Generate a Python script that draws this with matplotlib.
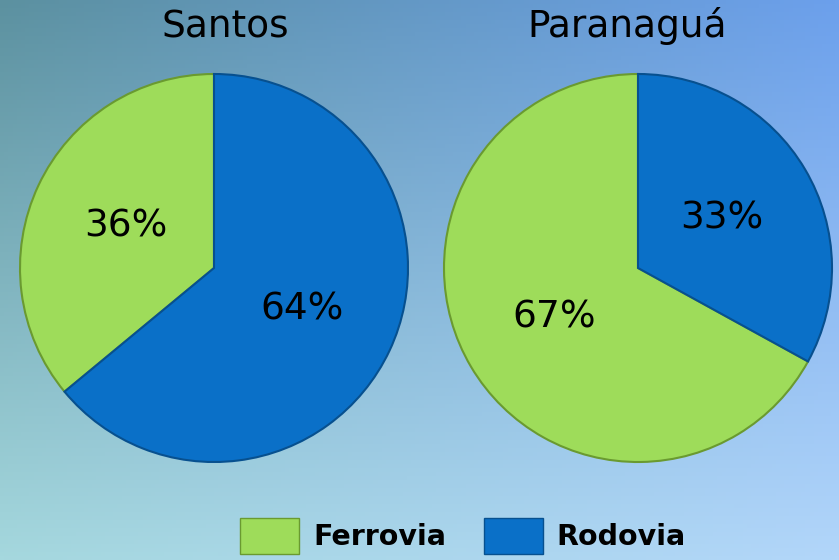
import numpy as np
import matplotlib.pyplot as plt
from matplotlib.patches import Patch

plt.rcParams['font.family'] = ['DejaVu Sans']

ports = ['Santos', 'Paranaguá']
modes = ['Ferrovia', 'Rodovia']
shares = {'Santos': [36, 64], 'Paranaguá': [67, 33]}
colors = ['#9edc5a', '#0a70c8']
edges = ['#6a9a30', '#07508f']

W, H = 839, 560
fig = plt.figure(figsize=(W / 100, H / 100), dpi=100)

# gradient background
bg = fig.add_axes([0, 0, 1, 1], zorder=0)
tl = np.array([92, 145, 160]) / 255
tr = np.array([108, 160, 236]) / 255
bl = np.array([165, 216, 222]) / 255
br = np.array([178, 214, 250]) / 255
u = np.linspace(0, 1, 200)[None, :, None]
v = np.linspace(0, 1, 140)[:, None, None]
img = (1 - v) * ((1 - u) * tl + u * tr) + v * ((1 - u) * bl + u * br)
bg.imshow(img, aspect='auto', extent=[0, 1, 0, 1], origin='upper')
bg.axis('off')

centers = [(214, 268), (638, 268)]
title_x = [225, 627]
R = 194
for port, (cx, cy), tx in zip(ports, centers, title_x):
    ax = fig.add_axes([(cx - R) / W, (H - cy - R) / H, 2 * R / W, 2 * R / H], zorder=1)
    wedges, texts, autotexts = ax.pie(
        shares[port], colors=colors, startangle=90, counterclock=True,
        autopct='%d%%', pctdistance=0.5, radius=1,
        wedgeprops=dict(linewidth=1.5),
        textprops=dict(fontsize=27, color='black'))
    for w, ec in zip(wedges, edges):
        w.set_edgecolor(ec)
    ax.set_xlim(-1, 1)
    ax.set_ylim(-1, 1)
    fig.text(tx / W, 1 - 37 / H, port, ha='center', va='baseline', fontsize=27)

handles = [Patch(facecolor=c, edgecolor=e, linewidth=1) for c, e in zip(colors, edges)]
fig.legend(handles, modes, loc='center', bbox_to_anchor=(463 / W, 1 - 536 / H),
           ncol=2, frameon=False, handlelength=2.07, handleheight=1.58,
           columnspacing=1.33, handletextpad=0.49, borderpad=0, borderaxespad=0,
           prop=dict(size=20.5, weight='bold'))

fig.savefig('out.png', dpi=100)
